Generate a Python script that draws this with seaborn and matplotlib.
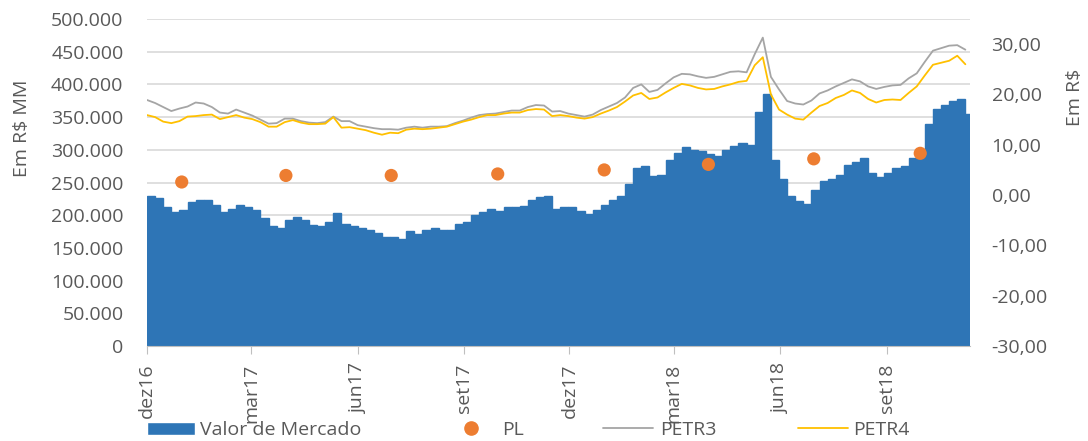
import numpy as np
import pandas as pd
import seaborn as sns
import matplotlib.pyplot as plt
from matplotlib.ticker import FuncFormatter
from matplotlib.patches import Patch
from matplotlib.lines import Line2D

# valores semanais (R$ bi -> convertido para R$ MM)
valor_mercado = [229, 226, 212, 205, 208, 220, 224, 223, 216, 205, 209, 215, 212, 208, 195, 184, 180, 193, 197, 192,
                 185, 184, 190, 203, 186, 184,
                 180, 178, 173, 166, 166, 163, 176, 172, 177, 181, 178, 178, 186, 189, 200, 205, 209, 207, 213, 213,
                 214, 224, 228, 230, 209, 213,
                 212, 207, 202, 208, 216, 224, 230, 248, 272, 275, 260, 262, 285, 295, 304, 300, 298, 293, 290, 300,
                 306, 310, 308, 358, 385, 285,
                 255, 230, 222, 217, 238, 252, 255, 262, 276, 282, 287, 265, 258, 265, 272, 275, 287, 290, 340, 362,
                 368, 375, 378, 355]
petr3 = [18.9, 18.3, 17.5, 16.7, 17.2, 17.6, 18.4, 18.2, 17.5, 16.4, 16.2, 17.0, 16.4, 15.8, 15.0, 14.2, 14.3, 15.2,
         15.2, 14.7, 14.4, 14.3, 14.5, 15.6, 14.7, 14.7,
         13.9, 13.6, 13.3, 13.1, 13.1, 13.0, 13.4, 13.6, 13.4, 13.6, 13.6, 13.7, 14.3, 14.8, 15.4, 15.9, 16.1, 16.2,
         16.5, 16.8, 16.8, 17.5, 17.9, 17.8, 16.6, 16.7,
         16.2, 15.9, 15.6, 16.0, 16.9, 17.6, 18.3, 19.4, 21.3, 22.0, 20.5, 20.9, 22.2, 23.4, 24.1, 24.0, 23.6, 23.3,
         23.5, 24.0, 24.5, 24.6, 24.4, 28.0, 31.3, 23.5,
         21.0, 18.7, 18.2, 18.0, 18.8, 20.2, 20.8, 21.6, 22.3, 23.0, 22.6, 21.6, 21.1, 21.5, 21.8, 21.9, 23.2, 24.2,
         26.5, 28.7, 29.2, 29.7, 29.8, 28.9]
petr4 = [15.9, 15.5, 14.6, 14.3, 14.7, 15.6, 15.7, 15.9, 16.0, 15.1, 15.5, 15.9, 15.4, 15.1, 14.5, 13.6, 13.6, 14.5,
         14.9, 14.4, 14.1, 14.1, 14.2, 15.5, 13.4, 13.5,
         13.2, 12.9, 12.4, 12.0, 12.4, 12.3, 13.0, 13.2, 13.1, 13.2, 13.4, 13.6, 14.1, 14.6, 15.0, 15.5, 15.9, 15.9,
         16.2, 16.4, 16.4, 16.9, 17.1, 17.0, 15.7, 15.9,
         15.7, 15.4, 15.2, 15.5, 16.2, 16.8, 17.5, 18.6, 19.8, 20.3, 19.1, 19.4, 20.4, 21.3, 22.1, 21.8, 21.3, 21.0,
         21.1, 21.6, 22.0, 22.5, 22.7, 25.8, 27.4, 20.0,
         17.0, 16.0, 15.2, 15.0, 16.4, 17.7, 18.3, 19.3, 19.9, 20.8, 20.3, 19.1, 18.4, 18.9, 19.0, 18.9, 20.3, 21.6,
         23.8, 25.9, 26.3, 26.7, 27.7, 26.0]
datas_pl = ['2016-12-31', '2017-03-31', '2017-06-30', '2017-09-30', '2017-12-31', '2018-03-31', '2018-06-30',
            '2018-09-30']
pl = [2.6, 3.9, 3.9, 4.2, 5.0, 6.1, 7.2, 8.3]
meses = ['2016-12-01', '2017-03-01', '2017-06-01', '2017-09-01', '2017-12-01', '2018-03-01', '2018-06-01',
         '2018-09-01']
rotulos_meses = ['dez16', 'mar17', 'jun17', 'set17', 'dez17', 'mar18', 'jun18', 'set18']

datas = pd.date_range('2016-12-01', periods=len(valor_mercado), freq='7D')
df = pd.DataFrame({'data': datas, 'vm': np.array(valor_mercado) * 1000, 'PETR3': petr3, 'PETR4': petr4})
df_pl = pd.DataFrame({'data': pd.to_datetime(datas_pl), 'PL': pl})

sns.set_style('white')
plt.rcParams['font.family'] = ['Open Sans', 'DejaVu Sans']
cinza_txt = '#595959'
azul, laranja, cinza, amarelo = '#2E75B6', '#ED7D31', '#A5A5A5', '#FFC000'
fs = 14

fig = plt.figure(figsize=(10.88, 4.41), dpi=100)
ax = fig.add_axes([147 / 1088, 1 - 346 / 441, 823 / 1088, 327 / 441])

ax.bar(df['data'], df['vm'], width=7, align='edge', color=azul, edgecolor=azul, linewidth=1.0)
ax.set_ylim(0, 500000)
ax.set_yticks(np.arange(0, 500001, 50000))
ax.yaxis.set_major_formatter(FuncFormatter(lambda v, p: f'{int(v):,}'.replace(',', '.')))
ax.set_xlim(pd.Timestamp('2016-12-01'), pd.Timestamp('2018-11-12'))
ax.set_xticks(pd.to_datetime(meses))
ax.set_xticklabels(rotulos_meses, rotation=90)
ax.grid(axis='y', color='#D9D9D9', lw=1.2)
ax.set_axisbelow(True)
for s in ['top', 'left', 'right']:
    ax.spines[s].set_visible(False)
ax.spines['bottom'].set_color('#BFBFBF')
ax.tick_params(axis='y', length=0, pad=17, labelsize=fs, labelcolor=cinza_txt)
ax.tick_params(axis='x', length=5.5, color='#BFBFBF', pad=7, labelsize=fs, labelcolor=cinza_txt, bottom=True)
ax.set_xlabel('')
ax.set_ylabel('')

ax2 = ax.twinx()
sns.lineplot(data=df, x='data', y='PETR3', ax=ax2, color=cinza, lw=1.3)
sns.lineplot(data=df, x='data', y='PETR4', ax=ax2, color=amarelo, lw=1.3)
sns.scatterplot(data=df_pl, x='data', y='PL', ax=ax2, color=laranja, s=90, edgecolor='none', zorder=5)
ax2.set_ylim(-30, 35)
ax2.set_yticks(np.arange(-30, 31, 10))
ax2.yaxis.set_major_formatter(FuncFormatter(lambda v, p: f'{v:.2f}'.replace('.', ',')))
ax2.tick_params(axis='y', length=0, pad=15.5, labelsize=fs, labelcolor=cinza_txt)
ax2.set_xlim(pd.Timestamp('2016-12-01'), pd.Timestamp('2018-11-12'))
ax2.set_xlabel('')
ax2.set_ylabel('')
for s in ['top', 'left', 'right', 'bottom']:
    ax2.spines[s].set_visible(False)

fig.text(22 / 1088, 1 - 128 / 441, 'Em R$ MM', rotation=90, ha='center', va='center', fontsize=fs, color=cinza_txt)
fig.text(1075 / 1088, 1 - 97 / 441, 'Em R$', rotation=90, ha='center', va='center', fontsize=fs, color=cinza_txt)

# legenda: cada item posicionado como no original
y_leg = 1 - 430 / 441
itens = [
    (Patch(facecolor=azul), 'Valor de Mercado', 147, 2.47, 0.26),
    (Line2D([], [], marker='o', ls='', color=laranja, markersize=9.5), 'PL', 447, 2.47, 0.36),
    (Line2D([], [], color=cinza, lw=1.3), 'PETR3', 603, 2.57, 0.36),
    (Line2D([], [], color=amarelo, lw=1.3), 'PETR4', 798, 2.57, 0.26),
]
for h, lab, x0, hl, tp in itens:
    fig.legend(handles=[h], labels=[lab], loc='center left', bbox_to_anchor=(x0 / 1088, y_leg), frameon=False,
               borderpad=0, borderaxespad=0, handlelength=hl, handleheight=0.65, handletextpad=tp, fontsize=fs,
               labelcolor=cinza_txt)

fig.savefig('out.png', dpi=100)
